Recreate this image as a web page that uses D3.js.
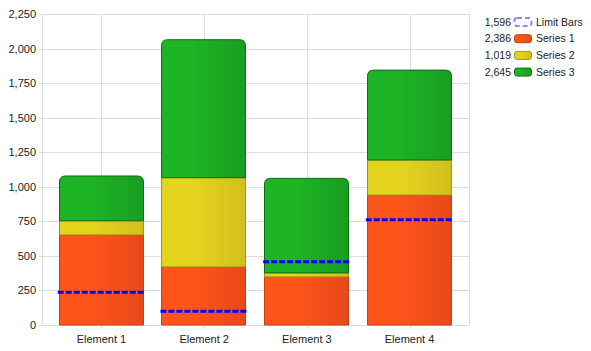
<!DOCTYPE html>
<html>
<head>
<meta charset="utf-8">
<script src="https://cdn.jsdelivr.net/npm/d3@7"></script>
<style>
  body { margin: 0; background: #fff; }
  svg text { font-family: "Liberation Sans", Arial, sans-serif; font-size: 11px; fill: #222; }
</style>
</head>
<body>
<svg id="chart" width="591" height="351"></svg>
<script>
// data
var categories = ["Element 1", "Element 2", "Element 3", "Element 4"];
var series1 = [652, 420, 348, 940];
var series2 = [102, 646, 29, 254];
var series3 = [324, 998, 684, 650];
var limits = [237, 99, 457, 761];
var seriesNames = ["Series 1", "Series 2", "Series 3"];
var legendTotals = ["1,596", "2,386", "1,019", "2,645"];
var yTicks = [0, 250, 500, 750, 1000, 1250, 1500, 1750, 2000, 2250];

var colors = [
  {light: "#ff551a", dark: "#e8481a", stroke: "#c8400f"},
  {light: "#e5d41e", dark: "#d2bf1e", stroke: "#a39414"},
  {light: "#1db526", dark: "#189d20", stroke: "#0f6e14"}
];

var margin = {top: 14, right: 122, bottom: 26, left: 42},
    width = 591 - margin.left - margin.right,
    height = 351 - margin.top - margin.bottom;

var svg = d3.select("#chart");
var defs = svg.append("defs");
colors.forEach(function(c, i) {
  var g = defs.append("linearGradient").attr("id", "grad" + i)
      .attr("x1", "0%").attr("x2", "100%").attr("y1", "0%").attr("y2", "0%");
  g.append("stop").attr("offset", "0%").attr("stop-color", c.light);
  g.append("stop").attr("offset", "35%").attr("stop-color", c.light);
  g.append("stop").attr("offset", "100%").attr("stop-color", c.dark);
});

var g = svg.append("g")
    .attr("transform", "translate(" + margin.left + "," + margin.top + ")");

var x = d3.scaleBand()
    .domain(categories)
    .range([0, width])
    .paddingInner(0.168)
    .paddingOuter(0.163);
var y = d3.scaleLinear()
    .domain([0, 2250])
    .range([height, 0]);

// grid
g.append("g").selectAll("line.h")
  .data(yTicks)
  .enter().append("line")
    .attr("x1", -3).attr("x2", width)
    .attr("y1", function(d) { return Math.round(y(d)) + 0.5; })
    .attr("y2", function(d) { return Math.round(y(d)) + 0.5; })
    .attr("stroke", "#dddddd");
g.append("g").selectAll("line.v")
  .data(categories)
  .enter().append("line")
    .attr("x1", function(d) { return Math.round(x(d) + x.bandwidth() / 2) + 0.5; })
    .attr("x2", function(d) { return Math.round(x(d) + x.bandwidth() / 2) + 0.5; })
    .attr("y1", 0).attr("y2", height + 3)
    .attr("stroke", "#dddddd");
g.append("line").attr("x1", width + 0.5).attr("x2", width + 0.5)
  .attr("y1", 0).attr("y2", height).attr("stroke", "#dddddd");
g.append("line").attr("x1", 0.5).attr("x2", 0.5)
  .attr("y1", 0).attr("y2", height).attr("stroke", "#dddddd");
g.append("line").attr("x1", 0).attr("x2", width)
  .attr("y1", height + 0.5).attr("y2", height + 0.5).attr("stroke", "#dddddd");

// axis labels
var yAxis = g.append("g").call(d3.axisLeft(y).tickValues(yTicks).tickSize(0).tickPadding(6).tickFormat(d3.format(",")));
yAxis.select(".domain").remove();
var xAxis = g.append("g").attr("transform", "translate(0," + height + ")")
    .call(d3.axisBottom(x).tickSize(0).tickPadding(10));
xAxis.select(".domain").remove();
g.selectAll(".tick text").attr("fill", "#222").style("font-size", "11px")
  .style("font-family", "'Liberation Sans', Arial, sans-serif");

// stacked bars
var rows = categories.map(function(c, i) {
  return {cat: c, s0: series1[i], s1: series2[i], s2: series3[i]};
});
var stack = d3.stack().keys(["s0", "s1", "s2"])(rows);

function segPath(x0, w, yTop, yBot, r) {
  if (!r) return "M" + x0 + "," + yBot + "V" + yTop + "H" + (x0 + w) + "V" + yBot + "Z";
  return "M" + x0 + "," + yBot + "V" + (yTop + r) +
    "Q" + x0 + "," + yTop + " " + (x0 + r) + "," + yTop +
    "H" + (x0 + w - r) +
    "Q" + (x0 + w) + "," + yTop + " " + (x0 + w) + "," + (yTop + r) +
    "V" + yBot + "Z";
}

stack.forEach(function(layer, si) {
  g.append("g").selectAll("path")
    .data(layer)
    .enter().append("path")
      .attr("d", function(d) {
        var x0 = Math.round(x(d.data.cat)) + 0.5;
        return segPath(x0, Math.round(x.bandwidth()) - 1, y(d[1]), y(d[0]), si === 2 ? 6 : 0);
      })
      .attr("fill", "url(#grad" + si + ")")
      .attr("stroke", colors[si].stroke)
      .attr("stroke-width", 1);
});

// limit lines
g.append("g").selectAll("line")
  .data(limits)
  .enter().append("line")
    .attr("x1", function(d, i) { return x(categories[i]) - 1; })
    .attr("x2", function(d, i) { return x(categories[i]) + x.bandwidth(); })
    .attr("y1", function(d) { return y(d); })
    .attr("y2", function(d) { return y(d); })
    .attr("stroke", "#0000ff")
    .attr("stroke-width", 3)
    .attr("stroke-dasharray", "6,2");

// legend
var legend = svg.append("g").attr("transform", "translate(511,22)");
var legendNames = ["Limit Bars"].concat(seriesNames);
var item = legend.selectAll("g")
  .data(legendNames)
  .enter().append("g")
    .attr("transform", function(d, i) { return "translate(0," + (i * 16.7) + ")"; });
item.append("text")
    .attr("text-anchor", "end")
    .attr("dy", "0.35em")
    .style("font-size", "10.5px")
    .text(function(d, i) { return legendTotals[i]; });
item.append("rect")
    .attr("x", 3.5).attr("y", -4)
    .attr("width", 17).attr("height", 8)
    .attr("rx", 2.5)
    .attr("fill", function(d, i) { return i === 0 ? "none" : "url(#grad" + (i - 1) + ")"; })
    .attr("stroke", function(d, i) { return i === 0 ? "#8a8aff" : colors[i - 1].stroke; })
    .attr("stroke-width", function(d, i) { return i === 0 ? 2 : 1; })
    .attr("stroke-dasharray", function(d, i) { return i === 0 ? "5,3" : null; });
item.append("text")
    .attr("x", 25)
    .attr("dy", "0.35em")
    .style("font-size", "10.5px")
    .text(function(d) { return d; });
</script>
</body>
</html>
